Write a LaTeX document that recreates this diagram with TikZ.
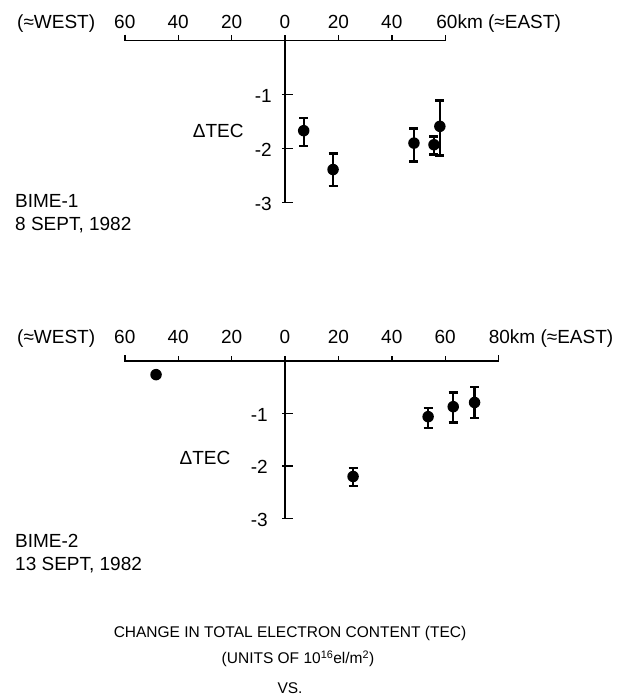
\documentclass[tikz,border=0pt]{standalone}
\usepackage{fontspec}
\setmainfont{Liberation Sans}
\usepackage{tikz}
\usetikzlibrary{positioning}
\tikzset{every picture/.style={font issue=\fontsize{19}{21}},
         font issue/.style={execute at begin picture={#1\selectfont}}
        }
\tikzset{
  axisline/.style={line width=1.4pt},
  errbar/.style={line width=2.3pt},
  datadot/.style={circle, fill, inner sep=0pt, minimum size=11.5pt},
  ticklabel/.style={inner sep=1pt},
  captext/.style={font=\fontsize{15.5}{17}\selectfont, inner sep=0pt}
}

\begin{document}
\begin{tikzpicture}[x=1pt, y=1pt]
\useasboundingbox (0,0) rectangle (627,-700);

% BIME-1
\begin{scope}[shift={(285,-40.5)}, x=2.67pt, y=54pt]
\draw[axisline] (-60,0.11) -- (-60,0) -- (60,0) -- (60,0.11);
\foreach \k in {-40,-20,20,40} \draw[axisline] (\k,0) -- (\k,0.1);
\draw[axisline] (0,0.1) -- (0,-3);
\foreach \t in {-1,-2,-3} \draw[axisline] (-1,\t) -- (3,\t);
\foreach \k/\l in {-60/60,-40/40,-20/20,0/0,20/20,40/40}
  \node[ticklabel, anchor=base] at ([yshift=11.5pt]\k,0) {\l};
\node[ticklabel, anchor=base west] (east1) at ([yshift=11.5pt,xshift=-10pt]60,0) {60km (≈EAST)};
\foreach \t in {-1,-2,-3}
  \node[ticklabel, anchor=east] at ([xshift=-12pt,yshift=-1pt]0,\t) {\t};
\node (dtec1) at (-25,-1.67) {ΔTEC};
\foreach \k/\v/\hi/\lo in {7/-1.67/-1.43/-1.96, 18/-2.39/-2.09/-2.70,
    48.3/-1.9/-1.63/-2.24, 55.8/-1.93/-1.78/-2.11, 58/-1.59/-1.11/-2.13}
{
  \draw[errbar] (\k,\lo) -- (\k,\hi);
  \draw[errbar] ([xshift=-4.5pt]\k,\hi) -- ([xshift=4.5pt]\k,\hi);
  \draw[errbar] ([xshift=-4.5pt]\k,\lo) -- ([xshift=4.5pt]\k,\lo);
  \node[datadot] at (\k,\v) {};
}
\end{scope}
\node[ticklabel, anchor=base west] (west1) at (16,-29) {(≈WEST)};
\node[anchor=west, inner sep=0pt] (bime1) at (15,-201) {BIME-1};
\node[below=9pt of bime1.south west, anchor=north west, inner sep=0pt] (date1) {8 SEPT, 1982};

% BIME-2
\begin{scope}[shift={(285,-361)}, x=2.67pt, y=52.5pt]
\draw[axisline] (-60,0.11) -- (-60,0) -- (80,0) -- (80,0.11);
\foreach \k in {-40,-20,20,40,60} \draw[axisline] (\k,0) -- (\k,0.1);
\draw[axisline] (0,0.1) -- (0,-3);
\foreach \t in {-1,-2,-3} \draw[axisline] (-1,\t) -- (3,\t);
\foreach \k/\l in {-60/60,-40/40,-20/20,0/0,20/20,40/40,60/60}
  \node[ticklabel, anchor=base] at ([yshift=18pt]\k,0) {\l};
\node[ticklabel, anchor=base west] (east2) at ([yshift=18pt,xshift=-11pt]80,0) {80km (≈EAST)};
\foreach \t in {-1,-2,-3}
  \node[ticklabel, anchor=east] at ([xshift=-16pt,yshift=-1pt]0,\t) {\t};
\node (dtec2) at (-30,-1.85) {ΔTEC};
\node[datadot] at (-48.3,-0.26) {};
\foreach \k/\v/\hi/\lo in {25.5/-2.2/-2.04/-2.38, 53.6/-1.06/-0.9/-1.28,
    63/-0.87/-0.6/-1.17, 71/-0.79/-0.49/-1.09}
{
  \draw[errbar] (\k,\lo) -- (\k,\hi);
  \draw[errbar] ([xshift=-4.5pt]\k,\hi) -- ([xshift=4.5pt]\k,\hi);
  \draw[errbar] ([xshift=-4.5pt]\k,\lo) -- ([xshift=4.5pt]\k,\lo);
  \node[datadot] at (\k,\v) {};
}
\end{scope}
\node[ticklabel, anchor=base west] (west2) at (16,-343) {(≈WEST)};
\node[anchor=west, inner sep=0pt] (bime2) at (15,-541) {BIME-2};
\node[below=9pt of bime2.south west, anchor=north west, inner sep=0pt] (date2) {13 SEPT, 1982};

% caption
\node[captext] (caption) at (290,-633) {CHANGE IN TOTAL ELECTRON CONTENT (TEC)};
\node[captext, below=10pt of caption, xshift=8pt] (units) {(UNITS OF 10\textsuperscript{16}el/m\textsuperscript{2})};
\node[captext, below=16pt of units, xshift=-8pt] (vs) {VS.};
\end{tikzpicture}
\end{document}
